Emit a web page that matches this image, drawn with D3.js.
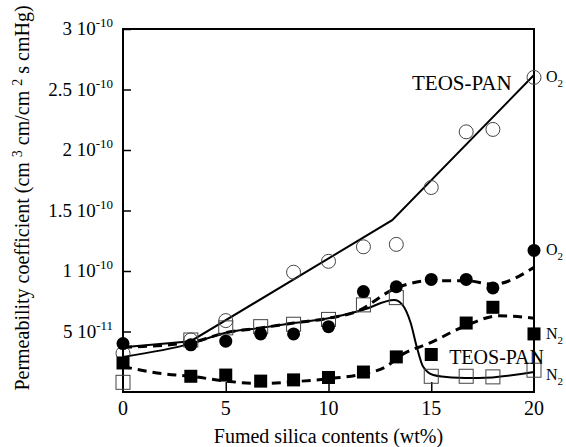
<!DOCTYPE html>
<html>
<head>
<meta charset="utf-8">
<script src="https://cdn.jsdelivr.net/npm/d3@7"></script>
<style>
  body { margin: 0; background: #fff; }
  svg { display: block; }
  text { font-family: "Liberation Serif", "Times New Roman", serif; fill: #000; }
</style>
</head>
<body>
<svg width="566" height="447"></svg>
<script>
// values in units of 1e-11 cm3 cm/cm2 s cmHg
const o2TeosX = [0, 3.3, 5, 8.3, 10, 11.7, 13.3, 15, 16.7, 18, 20];
const o2TeosY = [3.2, 4.3, 5.9, 9.9, 10.8, 12.0, 12.2, 16.9, 21.5, 21.7, 26.0];
const o2PanX = [0, 3.3, 5, 6.7, 8.3, 10, 11.7, 13.3, 15, 16.7, 18, 20];
const o2PanY = [4.0, 3.9, 4.2, 4.8, 4.8, 5.4, 8.3, 8.7, 9.3, 9.3, 8.6, 11.7];
const n2TeosX = [0, 3.3, 5, 6.7, 8.3, 10, 11.7, 13.3, 15, 16.7, 18, 20];
const n2TeosY = [0.8, 4.3, 5.3, 5.4, 5.6, 6.0, 7.2, 7.8, 1.3, 1.3, 1.25, 1.8];
const n2PanX = [0, 3.3, 5, 6.7, 8.3, 10, 11.7, 13.3, 15, 16.7, 18, 20];
const n2PanY = [2.4, 1.3, 1.4, 0.9, 1.0, 1.2, 1.65, 2.9, 3.1, 5.7, 7.0, 4.8];

// fitted curves
const fitO2TeosX = [0, 3.3, 13.1, 20];
const fitO2TeosY = [3.7, 4.2, 14.2, 26.2];
const fitO2PanX = [0, 3.3, 5, 6.7, 8.3, 10, 11.3, 13.3, 15, 16.7, 18, 20];
const fitO2PanY = [3.7, 4.1, 4.9, 5.3, 5.7, 6.1, 6.6, 8.6, 9.2, 9.2, 8.9, 10.3];
const fitN2TeosX = [0, 3.3, 5, 6.7, 8.3, 10, 11.7, 13.2, 13.6, 14.0, 14.3, 14.6, 15.1, 16.0, 17.3, 20];
const fitN2TeosY = [2.9, 4.0, 4.9, 5.3, 5.7, 6.1, 6.8, 7.6, 7.2, 5.7, 3.7, 2.1, 1.4, 1.2, 1.15, 1.65];
const fitN2PanX = [0, 2, 3.3, 5, 6.7, 8.3, 10, 11.7, 12.8, 13.5, 15, 16.7, 18.3, 20];
const fitN2PanY = [2.1, 1.5, 1.3, 0.9, 0.7, 0.85, 1.1, 1.5, 2.1, 3.0, 4.1, 5.5, 6.3, 6.1];

const xTicks = [0, 5, 10, 15, 20];
const yTicks = [5, 10, 15, 20, 25, 30];
const yTickMant = ["5", "1", "1.5", "2", "2.5", "3"];
const yTickExp = ["-11", "-10", "-10", "-10", "-10", "-10"];

const svg = d3.select("svg");
const x = d3.scaleLinear().domain([0, 20]).range([123, 534]);
const y = d3.scaleLinear().domain([0, 30]).range([392, 29]);

const zip = (a, b) => a.map((v, i) => [v, b[i]]);

// frame
svg.append("rect")
  .attr("x", x(0)).attr("y", y(30))
  .attr("width", x(20) - x(0)).attr("height", y(0) - y(30))
  .attr("fill", "none").attr("stroke", "#000").attr("stroke-width", 2);

// axes with inward ticks
svg.append("g")
  .attr("transform", `translate(${x(0)},0)`)
  .call(d3.axisLeft(y).tickValues(yTicks).tickSize(-8).tickFormat(""))
  .call(g => g.select(".domain").remove())
  .selectAll("line").attr("stroke-width", 1.5);

svg.append("g")
  .attr("transform", `translate(0,${y(0)})`)
  .call(d3.axisBottom(x).tickValues([5, 10, 15]).tickSize(-10).tickFormat(""))
  .call(g => g.select(".domain").remove())
  .selectAll("line").attr("stroke-width", 1.5);

// y tick labels
const yl = svg.append("g").selectAll("text").data(yTicks).join("text")
  .attr("x", 113).attr("y", d => y(d) + 6)
  .attr("text-anchor", "end").attr("font-size", 19);
yl.append("tspan").text((d, i) => yTickMant[i] + " 10");
yl.append("tspan").attr("dy", -8).attr("font-size", 13).text((d, i) => yTickExp[i]);

// x tick labels
svg.append("g").selectAll("text").data(xTicks).join("text")
  .attr("x", d => x(d)).attr("y", 415)
  .attr("text-anchor", "middle").attr("font-size", 20)
  .text(d => d);

// axis titles
svg.append("text")
  .attr("x", (x(0) + x(20)) / 2).attr("y", 443)
  .attr("text-anchor", "middle").attr("font-size", 20)
  .text("Fumed silica contents (wt%)");

const yt = svg.append("text")
  .attr("transform", "translate(29,198) rotate(-90)")
  .attr("text-anchor", "middle").attr("font-size", 20);
yt.append("tspan").text("Permeability coefficient (cm ");
yt.append("tspan").attr("dy", -7).attr("font-size", 14).text("3");
yt.append("tspan").attr("dy", 7).text(" cm/cm ");
yt.append("tspan").attr("dy", -7).attr("font-size", 14).text("2");
yt.append("tspan").attr("dy", 7).text(" s cmHg)");

// fit lines
const line = d3.line().x(d => x(d[0])).y(d => y(d[1]));
const smooth = d3.line().x(d => x(d[0])).y(d => y(d[1])).curve(d3.curveMonotoneX);

svg.append("path").attr("d", line(zip(fitO2TeosX, fitO2TeosY)))
  .attr("fill", "none").attr("stroke", "#000").attr("stroke-width", 2);
svg.append("path").attr("d", smooth(zip(fitO2PanX, fitO2PanY)))
  .attr("fill", "none").attr("stroke", "#000").attr("stroke-width", 3)
  .attr("stroke-dasharray", "9,6");
svg.append("path").attr("d", smooth(zip(fitN2TeosX, fitN2TeosY)))
  .attr("fill", "none").attr("stroke", "#000").attr("stroke-width", 2);
svg.append("path").attr("d", smooth(zip(fitN2PanX, fitN2PanY)))
  .attr("fill", "none").attr("stroke", "#000").attr("stroke-width", 3)
  .attr("stroke-dasharray", "9,6");

// markers
svg.append("g").selectAll("rect").data(zip(n2TeosX, n2TeosY)).join("rect")
  .attr("x", d => x(d[0]) - 7).attr("y", d => y(d[1]) - 7)
  .attr("width", 14).attr("height", 14)
  .attr("fill", "none").attr("stroke", "#444").attr("stroke-width", 1);
svg.append("g").selectAll("circle").data(zip(o2TeosX, o2TeosY)).join("circle")
  .attr("cx", d => x(d[0])).attr("cy", d => y(d[1])).attr("r", 7)
  .attr("fill", "none").attr("stroke", "#444").attr("stroke-width", 1);
svg.append("g").selectAll("circle").data(zip(o2PanX, o2PanY)).join("circle")
  .attr("cx", d => x(d[0])).attr("cy", d => y(d[1])).attr("r", 6.5)
  .attr("fill", "#000");
svg.append("g").selectAll("rect").data(zip(n2PanX, n2PanY)).join("rect")
  .attr("x", d => x(d[0]) - 6.5).attr("y", d => y(d[1]) - 6.5)
  .attr("width", 13).attr("height", 13)
  .attr("fill", "#000");

// annotations
svg.append("text").attr("x", 412).attr("y", 90).attr("font-size", 21).text("TEOS-PAN");
svg.append("text").attr("x", 544).attr("y", 364).attr("text-anchor", "end")
  .attr("font-size", 20).text("TEOS-PAN");

const gasLabel = (px, py, gas) => {
  const t = svg.append("text").attr("x", px).attr("y", py).attr("font-size", 16);
  t.append("tspan").text(gas);
  t.append("tspan").attr("dy", 5).attr("font-size", 11).text("2");
};
gasLabel(546, y(26.0) + 5, "O");
gasLabel(546, y(11.7) + 5, "O");
gasLabel(546, y(4.8) + 5, "N");
gasLabel(546, y(1.8) + 10, "N");
</script>
</body>
</html>
